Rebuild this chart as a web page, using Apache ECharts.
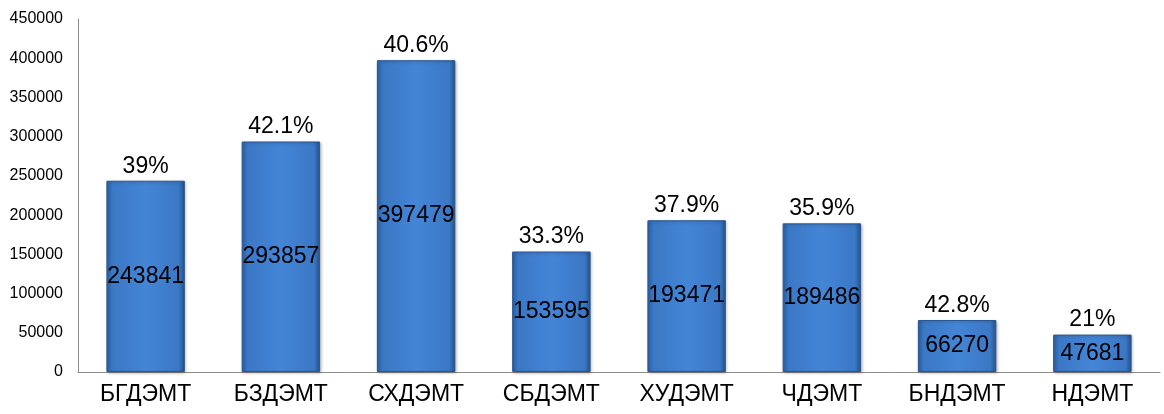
<!DOCTYPE html>
<html><head><meta charset="utf-8">
<script src="https://cdn.jsdelivr.net/npm/echarts@6/dist/echarts.min.js"></script>
<style>html,body{margin:0;padding:0;background:#fff}#c{width:1164px;height:414px}</style>
</head><body><div id="c"></div>
<script>
const categories = ['БГДЭМТ','БЗДЭМТ','СХДЭМТ','СБДЭМТ','ХУДЭМТ','ЧДЭМТ','БНДЭМТ','НДЭМТ'];
const values = [243841, 293857, 397479, 153595, 193471, 189486, 66270, 47681];
const percents = ['39%','42.1%','40.6%','33.3%','37.9%','35.9%','42.8%','21%'];

const chart = echarts.init(document.getElementById('c'));
const font = 'Liberation Sans, Arial, sans-serif';
chart.setOption({
  animation: false,
  grid: {left: 78, right: 4, top: 19, bottom: 42},
  xAxis: {
    type: 'category', data: categories,
    axisLine: {lineStyle: {color: '#8c8c8c', width: 1}},
    axisTick: {show: false},
    axisLabel: {color: '#000', fontSize: 23, fontFamily: font, margin: 11}
  },
  yAxis: {
    type: 'value', min: 0, max: 450000, interval: 50000,
    axisLine: {show: true, lineStyle: {color: '#8c8c8c', width: 1}},
    axisTick: {show: false},
    splitLine: {show: false},
    axisLabel: {color: '#000', fontSize: 16, fontFamily: font, margin: 15,
      formatter: v => String(v)}
  },
  series: [{
    type: 'bar', data: values, barWidth: '58%',
    itemStyle: {
      color: new echarts.graphic.LinearGradient(0, 0, 1, 0, [
        {offset: 0, color: '#2d63a8'},
        {offset: 0.08, color: '#3b78c6'},
        {offset: 0.5, color: '#4485d6'},
        {offset: 0.92, color: '#3b78c6'},
        {offset: 1, color: '#24528c'}
      ]),
      borderColor: '#2a5590', borderWidth: 1,
      shadowColor: 'rgba(0,0,0,0.25)', shadowBlur: 3, shadowOffsetX: 1, shadowOffsetY: 1
    },
    label: {show: true, position: 'inside', color: '#000', fontSize: 23, fontFamily: font}
  }, {
    type: 'bar', data: values, barWidth: '58%', barGap: '-100%',
    itemStyle: {color: 'rgba(0,0,0,0)'},
    label: {show: true, position: 'top', distance: 3, color: '#000', fontSize: 23, fontFamily: font,
      formatter: p => percents[p.dataIndex]}
  }]
});
</script></body></html>
